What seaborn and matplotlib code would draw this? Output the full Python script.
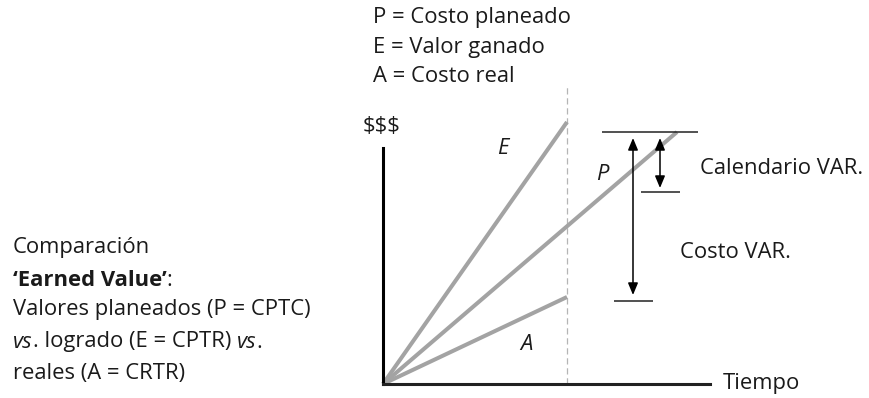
"""
plot.py
Earned value comparison diagram (P / E / A) saved to out.png
"""

import pandas as pd
import numpy as np
import matplotlib.pyplot as plt
import seaborn as sns

# ── data (time units, money units) ───────────────────────────────
series = ['E', 'P', 'A']
end_time = [18.4, 29.4, 18.4]
end_value = [26.2, 25.2, 8.7]
status_time = 18.4          # dashed "today" line
status_top = 29.7
time_axis_end = 32.7
value_axis_end = 23.6

# variance markers: level, x-start, x-end
var_levels = [25.2, 19.2, 8.3]
var_x0 = [21.9, 25.8, 23.1]
var_x1 = [31.5, 29.7, 27.0]
# double arrows: x, bottom, top
arrow_x = [25.0, 27.7]
arrow_lo = [8.9, 19.6]
arrow_hi = [24.6, 24.6]

legend_lines = ['P = Costo planeado', 'E = Valor ganado', 'A = Costo real']

sns.set_theme(style='white')
plt.rcParams['font.family'] = ['Open Sans', 'DejaVu Sans']
plt.rcParams['lines.solid_capstyle'] = 'butt'

TXT = '#1a1a1a'
GRAY = '#a3a3a3'
FS = 15.8

fig = plt.figure(figsize=(8.7, 3.98), dpi=100)
ax = fig.add_axes([0, 0, 1, 1])
ax.set_xlim(-38.3, 48.7)
ax.set_ylim(-1.4, 38.4)
ax.axis('off')

# ── the three lines ──────────────────────────────────────────────
rows = []
for s, t, v in zip(series, end_time, end_value):
    rows.append({'series': s, 't': 0.0, 'v': 0.0})
    rows.append({'series': s, 't': t, 'v': v})
df = pd.DataFrame(rows)
sns.lineplot(data=df, x='t', y='v', hue='series', sort=False,
             palette={s: GRAY for s in series}, linewidth=2.9,
             legend=False, ax=ax)

# status date line
ax.plot([status_time, status_time], [0, status_top], color='#b5b5b5',
        lw=0.9, ls=(0, (5, 3)), zorder=1)

# axes
ax.plot([0, 0], [0, value_axis_end], color='black', lw=2.2,
        solid_capstyle='projecting', zorder=3)
ax.plot([0, time_axis_end], [0, 0], color='#222222', lw=2.2,
        solid_capstyle='projecting', zorder=3)

# variance ticks and arrows
for lv, a, b in zip(var_levels, var_x0, var_x1):
    ax.plot([a, b], [lv, lv], color='#222222', lw=1.1)
for x, lo, hi in zip(arrow_x, arrow_lo, arrow_hi):
    ax.annotate('', xy=(x, hi), xytext=(x, lo),
                arrowprops=dict(arrowstyle='<|-|>,head_length=0.6,head_width=0.25',
                                color='black', lw=1.1, mutation_scale=12,
                                shrinkA=0, shrinkB=0))

# ── labels ───────────────────────────────────────────────────────
for i, s in enumerate(legend_lines):
    ax.text(-1.0, 36.7 - 3.0 * i, s, fontsize=FS, color=TXT, va='center')

ax.text(-2.0, 25.7, '$$$', fontsize=FS, color=TXT, va='center')
ax.text(12.0, 23.6, 'E', fontsize=FS, color=TXT, style='italic',
        ha='center', va='center')
ax.text(21.9, 21.0, 'P', fontsize=FS, color=TXT, style='italic',
        ha='center', va='center')
ax.text(14.3, 3.9, 'A', fontsize=FS, color=TXT, style='italic',
        ha='center', va='center')
ax.text(31.7, 21.6, 'Calendario VAR.', fontsize=FS, color=TXT, va='center')
ax.text(29.7, 13.1, 'Costo VAR.', fontsize=FS, color=TXT, va='center')
ax.text(34.0, 0.1, 'Tiempo', fontsize=FS, color=TXT, va='center')


def rich_line(x, y, runs):
    prev = None
    for s, kw in runs:
        if prev is None:
            prev = ax.text(x, y, s, fontsize=FS, color=TXT, va='center', **kw)
        else:
            prev = ax.annotate(s, xy=(1, 0.5), xycoords=prev, fontsize=FS,
                               color=TXT, va='center', ha='left', **kw)


side_lines = [
    [('Comparación', {})],
    [('\u2018Earned Value\u2019', {'fontweight': 'bold'}), (':', {})],
    [('Valores planeados (P = CPTC)', {})],
    [('vs', {'style': 'italic'}), ('. logrado (E = CPTR) ', {}),
     ('vs', {'style': 'italic'}), ('.', {})],
    [('reales (A = CRTR)', {})],
]
side_y = [13.7, 10.4, 7.4, 4.2, 1.1]
for runs, y in zip(side_lines, side_y):
    rich_line(-37.0, y, runs)

plt.savefig('out.png', dpi=100)
plt.close()
